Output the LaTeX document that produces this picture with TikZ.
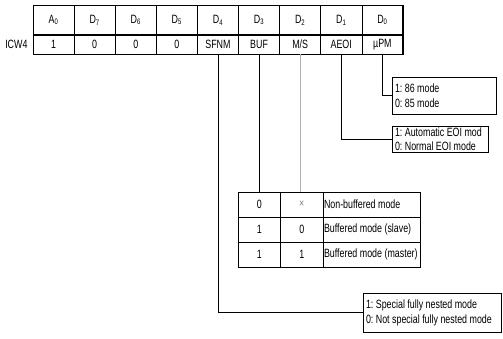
\documentclass[tikz,border=0pt]{standalone}
\usepackage{fontspec}
\setmainfont{Liberation Sans}[FakeStretch=0.74]
\usetikzlibrary{positioning}

\tikzset{
  hcell/.style={draw, line width=0.6pt, minimum width=41.1pt, minimum height=30pt,
                inner sep=0pt, outer sep=0pt},
  bcell/.style={draw, line width=0.6pt, minimum width=41.1pt, minimum height=19pt,
                inner sep=0pt, outer sep=0pt},
  scell/.style={draw, line width=0.5pt, minimum width=42.5pt, minimum height=25pt,
                inner sep=0pt, outer sep=0pt},
  dcell/.style={draw, line width=0.5pt, text width=95.3pt, minimum height=25pt,
                inner xsep=1pt, inner ysep=0pt, outer sep=0pt, align=flush left},
  note/.style={draw, line width=0.7pt, text width=#1, align=flush left,
               inner xsep=3pt, inner ysep=1pt, outer sep=0pt},
  link/.style={line width=0.5pt},
}

\begin{document}
\frenchspacing
\begin{tikzpicture}[x=1pt, y=-1pt, font=\fontsize{12}{14}\selectfont]
  \useasboundingbox (0,0) rectangle (503,338);

  % bit header row
  \node[hcell, anchor=north west] (ha) at (33,5) {A\textsubscript{0}};
  \node[hcell, right=0pt of ha] (h7) {D\textsubscript{7}};
  \node[hcell, right=0pt of h7] (h6) {D\textsubscript{6}};
  \node[hcell, right=0pt of h6] (h5) {D\textsubscript{5}};
  \node[hcell, right=0pt of h5] (h4) {D\textsubscript{4}};
  \node[hcell, right=0pt of h4] (h3) {D\textsubscript{3}};
  \node[hcell, right=0pt of h3] (h2) {D\textsubscript{2}};
  \node[hcell, right=0pt of h2] (h1) {D\textsubscript{1}};
  \node[hcell, right=0pt of h1] (h0) {D\textsubscript{0}};

  % ICW4 contents
  \node[bcell, below=0pt of ha] (ba) {1};
  \node[bcell, right=0pt of ba] (b7) {0};
  \node[bcell, right=0pt of b7] (b6) {0};
  \node[bcell, right=0pt of b6] (b5) {0};
  \node[bcell, right=0pt of b5] (sfnm) {SFNM};
  \node[bcell, right=0pt of sfnm] (buf) {BUF};
  \node[bcell, right=0pt of buf] (ms) {M/S};
  \node[bcell, right=0pt of ms] (aeoi) {AEOI};
  \node[bcell, right=0pt of aeoi] (upm) {µPM};
  \node[left=2pt of ba] (icw) {ICW4};

  \draw[line width=1pt] (ha.north west) rectangle (upm.south east);
  \draw[line width=1.5pt] (ha.south west) -- (h0.south east);

  % BUF / M/S table
  \node[scell, anchor=north west] (s11) at (238,192) {0};
  \node[scell, right=0pt of s11] (s12) {\textcolor{gray}{×}};
  \node[dcell, right=0pt of s12] (s13) {Non-buffered mode};
  \node[scell, below=0pt of s11] (s21) {1};
  \node[scell, right=0pt of s21] (s22) {0};
  \node[dcell, right=0pt of s22] (s23) {Buffered mode (slave)};
  \node[scell, below=0pt of s21] (s31) {1};
  \node[scell, right=0pt of s31] (s32) {1};
  \node[dcell, right=0pt of s32] (s33) {Buffered mode (master)};
  \draw[line width=0.9pt] (s11.north west) rectangle (s33.south east);

  % mode notes
  \node[note=98pt, minimum height=37pt, anchor=north west, font=\fontsize{12}{15}\selectfont]
    (pm) at (392,77) {1: 86 mode\\0: 85 mode};
  \node[note=90pt, minimum height=26pt, anchor=north west, font=\fontsize{12}{13.5}\selectfont]
    (eoi) at (392,126) {1: Automatic EOI mod\\0: Normal EOI mode};
  \node[note=132pt, minimum height=39pt, anchor=north west, font=\fontsize{12}{15}\selectfont]
    (sfn) at (363,293) {1: Special fully nested mode\\0: Not special fully nested mode};

  \draw[link] (upm.south) |- (pm.west);
  \draw[link] (aeoi.south) |- (eoi.west);
  \draw[link] (buf.south) -- (buf.south |- s11.north);
  \draw[link, gray!60] (ms.south) -- (ms.south |- s12.north);
  \draw[link] (sfnm.south) |- (sfn.west);
\end{tikzpicture}
\end{document}
